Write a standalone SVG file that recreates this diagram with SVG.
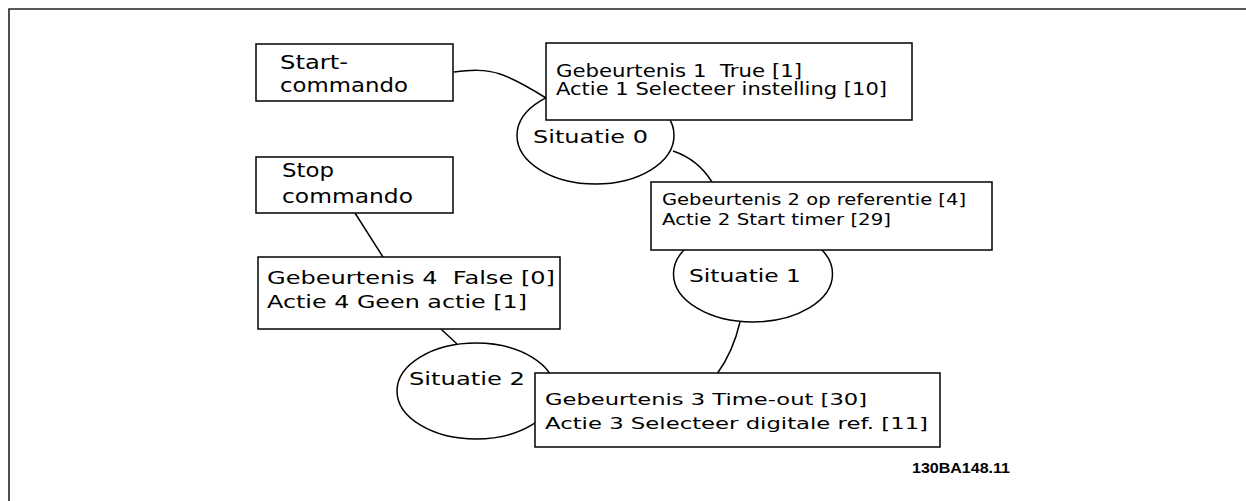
<svg xmlns="http://www.w3.org/2000/svg" width="1246" height="501" viewBox="0 0 1246 501">
<style>
.box{fill:#fff;stroke:#000;stroke-width:1.5}
.ell{fill:#fff;stroke:#000;stroke-width:1.5}
.con{fill:none;stroke:#000;stroke-width:1.5}
text{font-family:"DejaVu Sans",Verdana,sans-serif;fill:#000;white-space:pre}
.lbl{font-family:"Liberation Sans",Arial,sans-serif;font-weight:bold;font-size:14px}
</style>
<rect width="1246" height="501" fill="#fff"/>
<path d="M9,501 V9 H1246" fill="none" stroke="#222" stroke-width="1.6"/>
<g id="connectors">
<path class="con" d="M454,72 C470,70 485,69 500,74 C515,79 530,88 546,98"/>
<path class="con" d="M673,151 C688,156 702,166 712,182"/>
<path class="con" d="M740,322 Q733,352 717,374"/>
<path class="con" d="M355,213 L383,257"/>
<path class="con" d="M441,329 L457,344"/>
</g>
<g id="situatie0">
<ellipse class="ell" cx="595.5" cy="135.5" rx="78.5" ry="48.5"/>
<text x="533" y="143" font-size="17.5" textLength="115" lengthAdjust="spacingAndGlyphs">Situatie 0</text>
</g>
<g id="situatie1">
<ellipse class="ell" cx="753" cy="274" rx="79.5" ry="48"/>
<text x="689" y="282" font-size="17.5" textLength="112" lengthAdjust="spacingAndGlyphs">Situatie 1</text>
</g>
<g id="situatie2">
<ellipse class="ell" cx="476" cy="391" rx="79" ry="48"/>
<text x="409" y="385" font-size="17.5" textLength="116" lengthAdjust="spacingAndGlyphs">Situatie 2</text>
</g>
<g id="start">
<rect class="box" x="256" y="44" width="197" height="57"/>
<text x="280" y="69" font-size="19" textLength="68" lengthAdjust="spacingAndGlyphs">Start-</text>
<text x="280" y="92" font-size="19" textLength="128" lengthAdjust="spacingAndGlyphs">commando</text>
</g>
<g id="stop">
<rect class="box" x="256" y="157" width="197" height="56"/>
<text x="282" y="177" font-size="19" textLength="52" lengthAdjust="spacingAndGlyphs">Stop</text>
<text x="282" y="203" font-size="19" textLength="131" lengthAdjust="spacingAndGlyphs">commando</text>
</g>
<g id="event1">
<rect class="box" x="546" y="43" width="366" height="77"/>
<text x="556" y="77" font-size="17" textLength="246" lengthAdjust="spacingAndGlyphs">Gebeurtenis 1  True [1]</text>
<text x="556" y="95" font-size="17" textLength="331" lengthAdjust="spacingAndGlyphs">Actie 1 Selecteer instelling [10]</text>
</g>
<g id="event2">
<rect class="box" x="651" y="182" width="341" height="68"/>
<text x="662" y="205" font-size="15" textLength="304" lengthAdjust="spacingAndGlyphs">Gebeurtenis 2 op referentie [4]</text>
<text x="662" y="225" font-size="15" textLength="229" lengthAdjust="spacingAndGlyphs">Actie 2 Start timer [29]</text>
</g>
<g id="event4">
<rect class="box" x="258" y="257" width="302" height="72"/>
<text x="267" y="284" font-size="18" textLength="288" lengthAdjust="spacingAndGlyphs">Gebeurtenis 4  False [0]</text>
<text x="267" y="308" font-size="18" textLength="260" lengthAdjust="spacingAndGlyphs">Actie 4 Geen actie [1]</text>
</g>
<g id="event3">
<rect class="box" x="535" y="373" width="405" height="74"/>
<text x="545" y="405" font-size="16.5" textLength="322" lengthAdjust="spacingAndGlyphs">Gebeurtenis 3 Time-out [30]</text>
<text x="545" y="429" font-size="16.5" textLength="383" lengthAdjust="spacingAndGlyphs">Actie 3 Selecteer digitale ref. [11]</text>
</g>
<text class="lbl" x="912" y="473" textLength="98" lengthAdjust="spacingAndGlyphs">130BA148.11</text>
</svg>
